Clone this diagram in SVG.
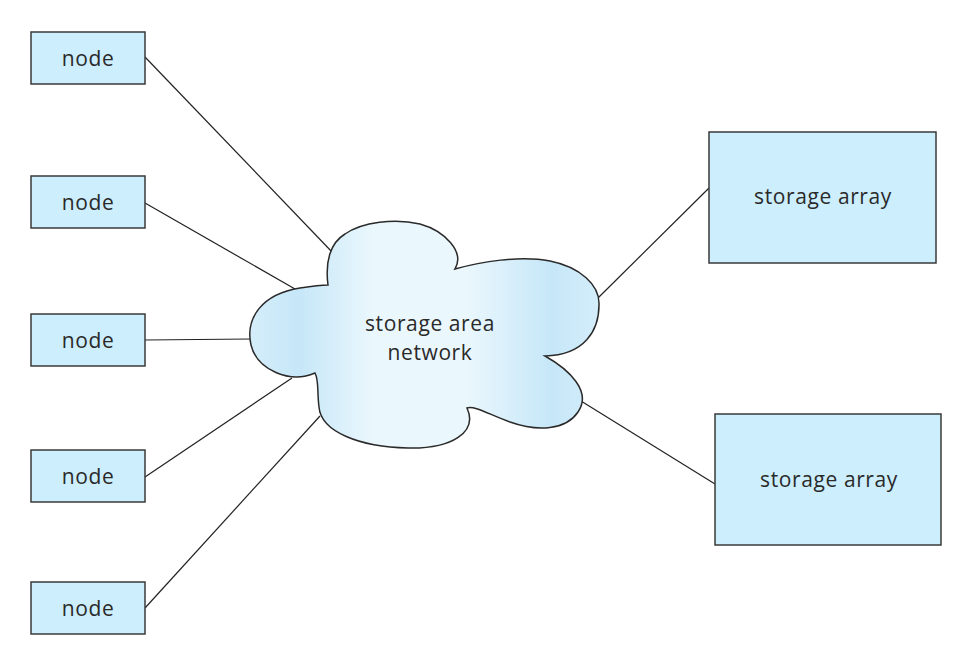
<svg xmlns="http://www.w3.org/2000/svg" width="973" height="667" viewBox="0 0 973 667">
<defs>
<linearGradient id="cg" x1="250" y1="0" x2="600" y2="0" gradientUnits="userSpaceOnUse">
<stop offset="0" stop-color="#d4edfa"/>
<stop offset="0.14" stop-color="#c6e7f8"/>
<stop offset="0.35" stop-color="#eaf7fd"/>
<stop offset="0.62" stop-color="#eaf7fd"/>
<stop offset="0.86" stop-color="#c6e7f8"/>
<stop offset="1" stop-color="#d4edfa"/>
</linearGradient>
</defs>
<style>
.box{fill:#cdeefc;stroke:#3a3a3a;stroke-width:1.5}
.lbl{font-family:"Open Sans","Liberation Sans",sans-serif;font-size:21px;fill:#2a2a2a;text-anchor:middle;dominant-baseline:central;letter-spacing:0.6px}
.conn line{stroke:#222;stroke-width:1.2}
</style>
<rect width="973" height="667" fill="#fff"/>
<g class="conn" id="connectors">
<line x1="145" y1="57" x2="333" y2="253"/>
<line x1="145" y1="203" x2="295" y2="289"/>
<line x1="145" y1="340" x2="251" y2="339"/>
<line x1="145" y1="477" x2="292" y2="378"/>
<line x1="145" y1="608" x2="320" y2="416"/>
<line x1="709" y1="188" x2="598" y2="298"/>
<line x1="715" y1="484" x2="581" y2="401"/>
</g>
<g id="node1"><rect class="box" x="31" y="32" width="114" height="52"/><text class="lbl" x="88" y="58">node</text></g>
<g id="node2"><rect class="box" x="31" y="176" width="114" height="52"/><text class="lbl" x="88" y="202">node</text></g>
<g id="node3"><rect class="box" x="31" y="314" width="114" height="52"/><text class="lbl" x="88" y="340">node</text></g>
<g id="node4"><rect class="box" x="31" y="450" width="114" height="52"/><text class="lbl" x="88" y="476">node</text></g>
<g id="node5"><rect class="box" x="31" y="582" width="114" height="52"/><text class="lbl" x="88" y="608">node</text></g>
<g id="san">
<path d="M328,285 C325,262 330,243 345,234 C362,222 395,218 420,224 C445,231 465,252 455,269 C480,262 520,255 550,261 C580,267 600,285 599,305 C599,330 585,355 545,356 C570,370 592,392 578,412 C566,430 538,432 510,422 C490,415 474,405 467,408 C478,432 452,449 408,448 C360,447 321,432 319,407 C317,392 319,380 315,373 C290,384 257,370 251,345 C245,318 262,294 300,288 C313,286 322,285 328,285 Z" fill="url(#cg)" stroke="#2a2a2a" stroke-width="1.5"/>
<text class="lbl" x="430" y="323">storage area</text>
<text class="lbl" x="430" y="352">network</text>
</g>
<g id="array1"><rect class="box" x="709" y="132" width="227" height="131"/><text class="lbl" x="823" y="196">storage array</text></g>
<g id="array2"><rect class="box" x="715" y="414" width="226" height="131"/><text class="lbl" x="829" y="479">storage array</text></g>
</svg>
